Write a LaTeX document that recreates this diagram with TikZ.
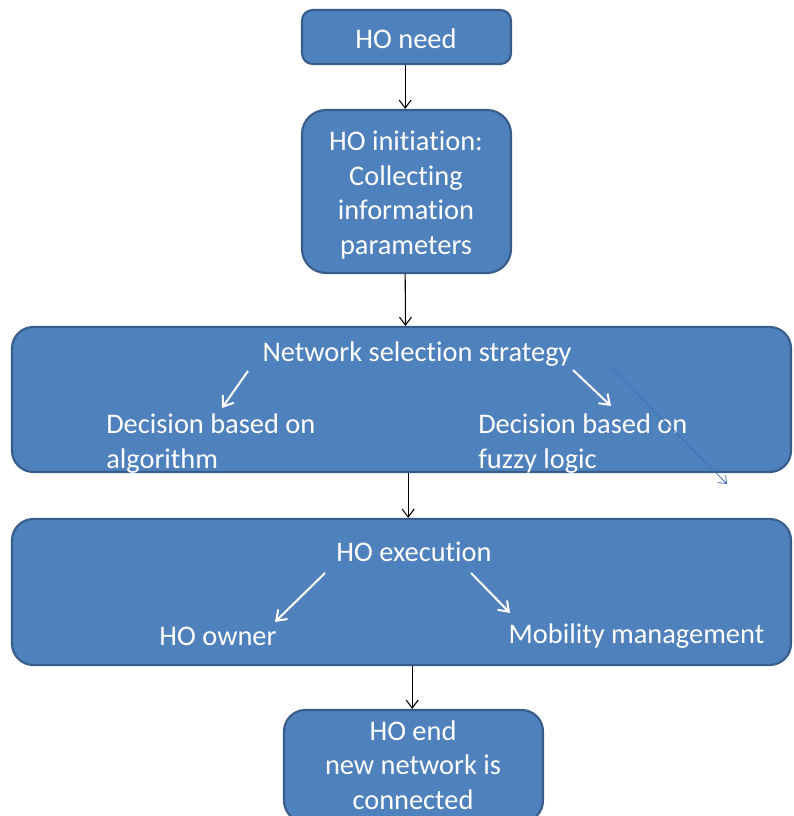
\documentclass[tikz,border=0pt]{standalone}
\usepackage{fontspec}
\setmainfont{Carlito}[Ligatures=NoCommon]
\usepackage{xcolor}
\usetikzlibrary{arrows.meta}

\definecolor{boxblue}{HTML}{4F81BD}
\definecolor{boxedge}{HTML}{385D8A}
\definecolor{strayblue}{HTML}{4170B4}

\tikzset{
  stepbox/.style={draw=boxedge, line width=1.6pt, fill=boxblue, text=white,
    align=center, inner sep=0pt, font=\fontsize{21.3}{26}\selectfont},
  label text/.style={text=white, inner sep=0pt, font=\fontsize{21.3}{26}\selectfont},
  flow/.style={-{Straight Barb[length=6pt,width=9pt]}, line width=0.8pt, black},
  inner flow/.style={-{Straight Barb[length=7pt,width=10pt]}, line width=1.5pt, white}
}

\begin{document}
\begin{tikzpicture}[x=0.75pt, y=-0.75pt]
            \useasboundingbox (0,0) rectangle (793,816);

            % boxes
            \node[stepbox, rounded corners=8pt, minimum width=156.75pt, minimum height=40.5pt] (need) at (406.5,37) {};
            \node[stepbox, rounded corners=18pt, minimum width=156.75pt, minimum height=122.25pt] (init) at (406.5,191.5) {};
            \node[stepbox, rounded corners=16pt, minimum width=584.25pt, minimum height=108.75pt] (select) at (401.5,399.5) {};
            \node[stepbox, rounded corners=16pt, minimum width=584.25pt, minimum height=109.5pt] (exec) at (401.5,592) {};
            \node[stepbox, rounded corners=16pt, minimum width=194.25pt, minimum height=84pt] (end) at (413.5,766) {};

            % texts inside the boxes
            \node[label text] (needtext) at (406,39) {HO need};
            \node[label text, align=center] (inittext) at (406,195) {HO initiation:\\Collecting\\information\\parameters};
            \node[label text, align=center] (endtext) at (413,765) {HO end\\new network is\\connected};
            \node[label text] (strategy) at (417,354) {Network selection strategy};
            \node[label text, anchor=west, align=left] (algo) at (106,443.5) {Decision based on\\algorithm};
            \node[label text, anchor=west, align=left] (fuzzy) at (478,443.5) {Decision based on\\fuzzy logic};
            \node[label text] (execution) at (414,552) {HO execution};
            \node[label text] (owner) at (218,636) {HO owner};
            \node[label text] (mobility) at (636.5,636) {Mobility management};

            % white arrows
            \coordinate (s1) at (248,371);
            \coordinate (d1) at (222,408);
            \coordinate (s2) at (573,370);
            \coordinate (d2) at (611,406);
            \coordinate (e1) at (325,573);
            \coordinate (o1) at (275,622);
            \coordinate (e2) at (471,573);
            \coordinate (m1) at (510,613);
            \draw[inner flow] (s1) -- (d1);
            \draw[inner flow] (s2) -- (d2);
            \draw[inner flow] (e1) -- (o1);
            \draw[inner flow] (e2) -- (m1);

            % thin stray arrow
            \coordinate (t1) at (612,368);
            \coordinate (t2) at (727,484);
            \draw[-{Straight Barb[length=5pt,width=8pt]}, line width=0.6pt, strayblue] (t1) -- (t2);

            % flow between boxes
            \draw[flow] ([xshift=-1pt]need.south) -- ([xshift=-1pt]init.north);
            \draw[flow] ([xshift=-1pt]init.south) -- ([xshift=3pt]select.north);
            \draw[flow] ([xshift=5pt]select.south) -- ([xshift=5pt]exec.north);
            \draw[flow] ([xshift=8pt]exec.south) -- ([xshift=-1pt]end.north);
        \end{tikzpicture}
\end{document}
